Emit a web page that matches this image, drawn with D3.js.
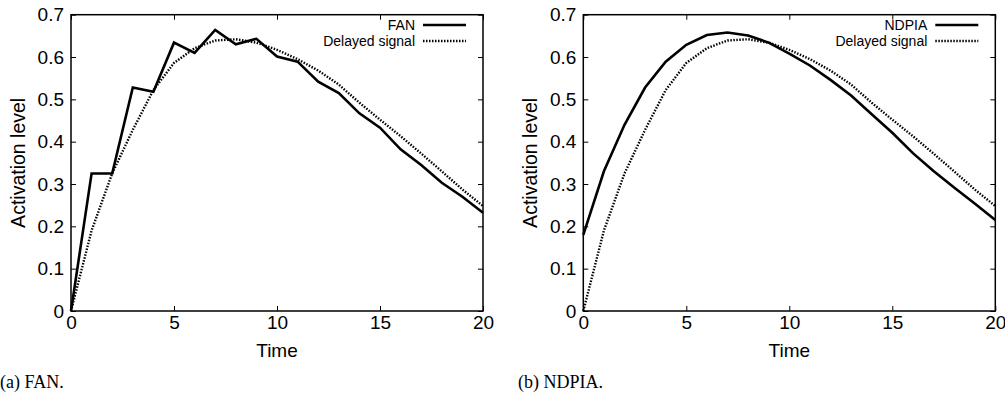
<!DOCTYPE html>
<html>
<head>
<meta charset="utf-8">
<script src="https://d3js.org/d3.v7.min.js"></script>
<style>
  body { margin: 0; background: #fff; }
  svg { display: block; }
  .axis text { font-family: "Liberation Sans", Arial, sans-serif; font-size: 19px; fill: #000; }
  .axis path, .axis line { stroke: #000; }
</style>
</head>
<body>
<div id="chart"></div>
<script>
// Time steps (shared by both panels)
const times = d3.range(0, 21);

// Panel (a): FAN output
const fanValues = [0, 0.325, 0.325, 0.528, 0.518, 0.634, 0.61, 0.664, 0.63, 0.643, 0.601,
    0.589, 0.542, 0.515, 0.467, 0.433, 0.382, 0.345, 0.303, 0.27, 0.232];

// Panel (b): NDPIA output
const ndpiaValues = [0.18, 0.33, 0.44, 0.528, 0.589, 0.629, 0.652, 0.658, 0.651, 0.634, 0.608,
    0.58, 0.546, 0.509, 0.465, 0.421, 0.373, 0.331, 0.292, 0.254, 0.215];

// Delayed input signal (same in both panels)
const delayedValues = [0, 0.19, 0.325, 0.428, 0.522, 0.586, 0.621, 0.639, 0.642, 0.634, 0.617,
    0.595, 0.568, 0.535, 0.492, 0.452, 0.413, 0.372, 0.33, 0.287, 0.248];

const xTicks = [0, 5, 10, 15, 20];
const yTicks = [0, 0.1, 0.2, 0.3, 0.4, 0.5, 0.6, 0.7];

const panels = [
    { name: 'FAN', values: fanValues, caption: '(a) FAN.', left: 71, captionX: 0 },
    { name: 'NDPIA', values: ndpiaValues, caption: '(b) NDPIA.', left: 583.3, captionX: 518 }
];

const width = 1005, height = 397;
const plotW = 412, plotTop = 14.7, plotBottom = 311;
const sans = '"Liberation Sans", Arial, sans-serif';

const svg = d3.select('#chart').append('svg')
    .attr('width', width)
    .attr('height', height)
    .style('background', '#fff');

panels.forEach(p => {
    const x = d3.scaleLinear().domain([0, 20]).range([p.left, p.left + plotW]);
    const y = d3.scaleLinear().domain([0, 0.7]).range([plotBottom, plotTop]);
    const g = svg.append('g');

    // bottom axis with labels, inward ticks
    g.append('g').attr('class', 'axis')
        .attr('transform', `translate(0,${plotBottom})`)
        .call(d3.axisBottom(x).tickValues(xTicks).tickSizeInner(-5).tickSizeOuter(0).tickPadding(5))
        .call(a => a.select('.domain').remove());
    // left axis
    g.append('g').attr('class', 'axis')
        .attr('transform', `translate(${p.left},0)`)
        .call(d3.axisLeft(y).tickValues(yTicks).tickFormat(d3.format('.1~f')).tickSizeInner(-5).tickSizeOuter(0).tickPadding(7))
        .call(a => a.select('.domain').remove());
    // mirror ticks top/right
    g.append('g').attr('class', 'axis')
        .attr('transform', `translate(0,${plotTop})`)
        .call(d3.axisTop(x).tickValues(xTicks).tickFormat('').tickSizeInner(-5).tickSizeOuter(0))
        .call(a => a.select('.domain').remove());
    g.append('g').attr('class', 'axis')
        .attr('transform', `translate(${p.left + plotW},0)`)
        .call(d3.axisRight(y).tickValues(yTicks).tickFormat('').tickSizeInner(-5).tickSizeOuter(0))
        .call(a => a.select('.domain').remove());

    // frame
    g.append('rect')
        .attr('x', x(0)).attr('y', y(0.7))
        .attr('width', x(20) - x(0)).attr('height', y(0) - y(0.7))
        .attr('fill', 'none').attr('stroke', '#000').attr('stroke-width', 1.5);

    const line = d3.line().x((d, i) => x(times[i])).y(d => y(d));

    g.append('path')
        .datum(delayedValues)
        .attr('d', line)
        .attr('fill', 'none')
        .attr('stroke', '#000')
        .attr('stroke-width', 2.4)
        .attr('stroke-dasharray', '1.5,1.5');

    g.append('path')
        .datum(p.values)
        .attr('d', line)
        .attr('fill', 'none')
        .attr('stroke', '#000')
        .attr('stroke-width', 2.6)
        .attr('stroke-linejoin', 'miter');

    // axis titles
    g.append('text')
        .attr('x', (x(0) + x(20)) / 2).attr('y', 357)
        .attr('text-anchor', 'middle')
        .style('font-family', sans)
        .style('font-size', '19px')
        .text('Time');
    g.append('text')
        .attr('transform', `translate(${p.left - 46},${(plotTop + plotBottom) / 2}) rotate(-90)`)
        .attr('text-anchor', 'middle')
        .style('font-family', sans)
        .style('font-size', '19.5px')
        .text('Activation level');

    // legend
    const legendRight = x(20) - 68;
    const legend = [
        { label: p.name, dash: null, w: 2.6 },
        { label: 'Delayed signal', dash: '1.5,1.5', w: 2.4 }
    ];
    legend.forEach((d, i) => {
        const ly = 25 + i * 16;
        g.append('text')
            .attr('x', legendRight).attr('y', ly + 5)
            .attr('text-anchor', 'end')
            .style('font-family', sans)
            .style('font-size', '14px')
            .text(d.label);
        g.append('line')
            .attr('x1', legendRight + 8).attr('x2', legendRight + 51)
            .attr('y1', ly).attr('y2', ly)
            .attr('stroke', '#000')
            .attr('stroke-width', d.w)
            .attr('stroke-dasharray', d.dash);
    });

    // caption
    svg.append('text')
        .attr('x', p.captionX).attr('y', 388)
        .style('font-family', '"Liberation Serif", "Times New Roman", serif')
        .style('font-size', '18px')
        .text(p.caption);
});
</script>
</body>
</html>
